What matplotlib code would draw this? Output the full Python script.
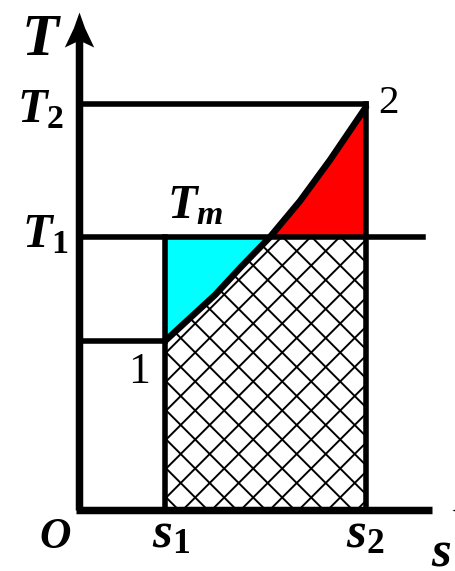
import numpy as np
import matplotlib.pyplot as plt
from matplotlib.path import Path

plt.rcParams['mathtext.fontset'] = 'custom'
plt.rcParams['mathtext.it'] = 'Liberation Serif:italic:bold'
plt.rcParams['mathtext.rm'] = 'Liberation Serif:bold'

# state points (entropy s, temperature T), arbitrary units
s1, s2 = 86, 287
T_1, T_2 = 273, 406
T_a = 169          # temperature at state 1
s_end, T_end = 373, 498   # axis lengths

# heating curve 1 -> 2
curve_s = np.array([86, 111, 136, 161, 191, 221, 251, 287])
curve_T = np.array([169, 192, 215, 242, 273, 309, 350, 403])

DPI = 174
fig = plt.figure(figsize=(455 / DPI, 571 / DPI), dpi=DPI)
ax = fig.add_axes([0, 0, 1, 1])
ax.set_xlim(-79, 376)
ax.set_ylim(-61, 510)
ax.axis('off')

# regions
ax.fill_between(curve_s, curve_T, T_1, where=curve_T <= T_1,
                color='#00ffff', lw=0, zorder=1)
ax.fill_between(curve_s, T_1, curve_T, where=curve_T >= T_1,
                color='#ff0000', lw=0, zorder=1)
under = ax.fill_between(curve_s, 0, np.minimum(curve_T, T_1),
                        facecolor='white', lw=0, zorder=1)

# cross hatching, clipped to the region under the curve
step = 29
clip = (under.get_paths()[0], ax.transData)
span = np.array([-100, 600])
for c in np.arange(-600, 700, step):
    for ln in ax.plot(span, span - (c + 7.7), color='black', lw=0.8, zorder=1.5) + \
              ax.plot(span, (c + 3.7) - span, color='black', lw=0.8, zorder=1.5):
        ln.set_clip_path(*clip)

lw = 2.3
ax.plot([0, s2], [T_2, T_2], color='black', lw=lw, zorder=2)
ax.plot([0, 344], [T_1, T_1], color='black', lw=lw, zorder=2)
ax.plot([0, s1], [T_a, T_a], color='black', lw=lw, zorder=2)
ax.plot([s1, s1], [0, T_1], color='black', lw=lw, zorder=2)
ax.plot([s2, s2], [0, T_2], color='black', lw=lw, zorder=2)
ax.plot(curve_s, curve_T, color='black', lw=2.7, solid_capstyle='round', zorder=3)

# axes with arrow heads
ax.plot([0, 0], [0, T_end - 20], color='black', lw=3.1, solid_capstyle='butt', zorder=4)
ax.plot([-3, s_end - 20], [0, 0], color='black', lw=3.1, solid_capstyle='butt', zorder=4)
head = np.array([(0, 0), (0.16, -0.45), (0.42, -1.0), (0, -0.8),
                 (-0.42, -1.0), (-0.16, -0.45), (0, 0)])
up = Path(head, closed=True)
right = Path(np.column_stack([-head[:, 1], head[:, 0]]), closed=True)
ax.plot([0], [T_end], marker=up, ms=29, color='black', mew=0, zorder=5)
ax.plot([s_end], [0], marker=right, ms=29, color='black', mew=0, zorder=5)

# labels
ax.text(-58, 455, r'$T$', fontsize=25)
ax.text(-62, 388, r'$T_2$', fontsize=20)
ax.text(-57, 263, r'$T_1$', fontsize=20)
ax.text(88, 292, r'$T_m$', fontsize=20)
ax.text(49, 127, '1', fontsize=18, family='Liberation Serif')
ax.text(299, 397, '2', fontsize=17, family='Liberation Serif')
ax.text(-40, -38, r'$O$', fontsize=18)
ax.text(73, -37, r'$s_1$', fontsize=21)
ax.text(267, -37, r'$s_2$', fontsize=21)
ax.text(352, -56, r'$s$', fontsize=21)

fig.savefig('out.png', dpi=DPI)
